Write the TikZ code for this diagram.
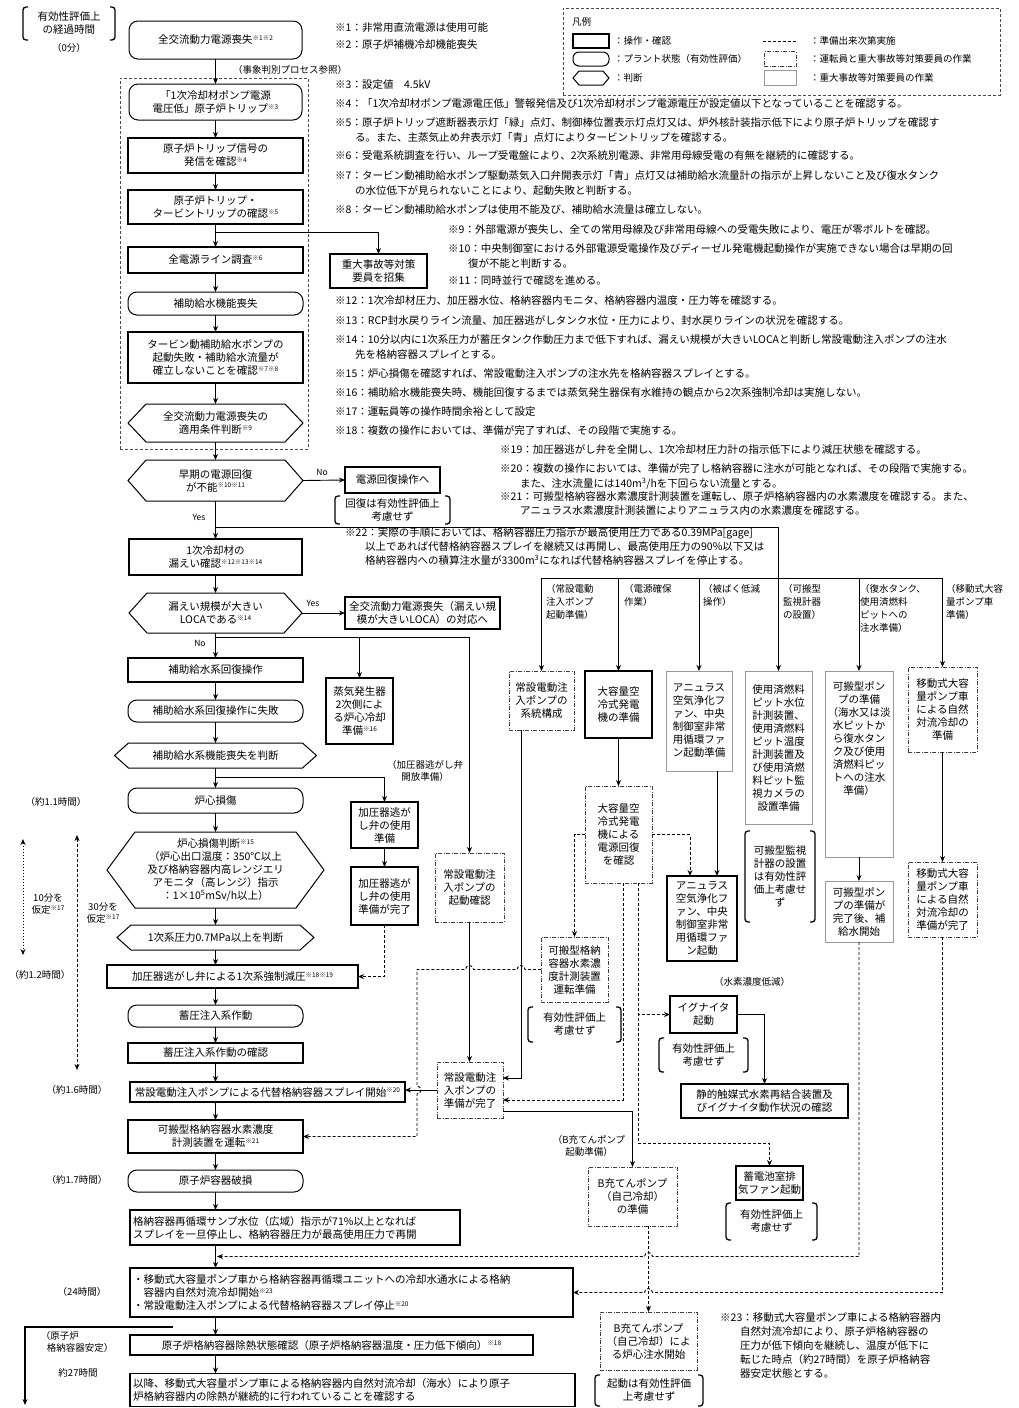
\documentclass[tikz,border=0pt]{standalone}
\usepackage{fontspec}
\setmainfont{Noto Sans CJK JP}
\usetikzlibrary{arrows.meta}
\newcommand\snote[1]{\raisebox{0.6ex}{\fontsize{6.5}{7}\selectfont ※#1}}
\tikzset{
 wh/.style 2 args={minimum width=#1pt,minimum height=#2pt},
 base/.style={inner sep=1pt, outer sep=0pt, align=center, font=\fontsize{10.5}{13}\selectfont},
 op/.style={base, draw, line width=1.4pt},
 oplft/.style={op, align=left, inner sep=3pt},
 plant/.style={base, draw, line width=1pt, rounded corners=9pt},
 hexin/.style={base},
 hexline/.style={line width=1pt},
 sadash/.style={base, draw=black!75, line width=0.8pt, dash pattern=on 4pt off 1.5pt on 1pt off 1.5pt},
 sathin/.style={base, draw=black!40, line width=1pt},
 grpbox/.style={draw=black!70, line width=0.8pt, dash pattern=on 3pt off 2pt},
 brtext/.style={base},
 brline/.style={line width=1.3pt, rounded corners=3pt},
 line/.style={line width=0.9pt},
 arr/.style={line, -{Stealth[length=6pt,width=5pt]}},
 darr/.style={arr, dash pattern=on 3pt off 2pt},
 dline/.style={line, dash pattern=on 3pt off 2pt},
 dotarr/.style={line, dash pattern=on 1.5pt off 1.5pt, {Stealth[length=6pt,width=5pt]}-{Stealth[length=6pt,width=5pt]}},
 dasharr/.style={line, dash pattern=on 3pt off 2pt, {Stealth[length=6pt,width=5pt]}-{Stealth[length=6pt,width=5pt]}},
 note/.style={inner sep=0pt, anchor=north west, align=left, font=\fontsize{10.5}{15}\selectfont},
 notec/.style={note, font=\fontsize{10.5}{14}\selectfont},
 lbl/.style={inner sep=0pt, font=\fontsize{8.5}{10}\selectfont},
 tlabel/.style={inner sep=0pt, align=center, font=\fontsize{9.5}{12}\selectfont},
 toplbl/.style={inner sep=0pt, anchor=north west, align=left, font=\fontsize{9.5}{13}\selectfont},
 legtxt/.style={inner sep=0pt, anchor=west, font=\fontsize{9.5}{11}\selectfont},
}
\newcommand\hexnode[7]{%
 \node[hexin, wh={#4}{#5}] (#1) at (#2,#3) {#7};
 \draw[hexline] (#1.west) -- ([xshift=#6pt]#1.north west) -- ([xshift=-#6pt]#1.north east) -- (#1.east) -- ([xshift=-#6pt]#1.south east) -- ([xshift=#6pt]#1.south west) -- cycle;
}
\newcommand\brnode[6]{%
 \node[brtext, wh={#4}{#5}] (#1) at (#2,#3) {#6};
 \draw[brline] ([xshift=5pt]#1.north west) -- (#1.north west) -- (#1.south west) -- ([xshift=5pt]#1.south west);
 \draw[brline] ([xshift=-5pt]#1.north east) -- (#1.north east) -- (#1.south east) -- ([xshift=-5pt]#1.south east);
}
\begin{document}
\begin{tikzpicture}[x=1pt,y=-1pt]
\useasboundingbox (0,0) rectangle (1018,1408);
\fill[white] (0,0) rectangle (1018,1408);

% ---------- legend ----------
\node[grpbox, wh={437}{87}] (leg) at (781.5,51.5) {};
\node[legtxt] (legT) at (572,22) {凡例};
\node[op, wh={36}{14}] (lg1) at (591,41) {};
\node[legtxt] (lg1t) at (614,41) {：操作・確認};
\node[plant, rounded corners=6pt, wh={36}{14}] (lg2) at (591,59) {};
\node[legtxt] (lg2t) at (614,59) {：プラント状態（有効性評価）};
\hexnode{lg3}{591}{78}{36}{14}{6}{}
\node[legtxt] (lg3t) at (614,78) {：判断};
\coordinate (lg4a) at (763,41); \coordinate (lg4b) at (797,41);
\draw[dline] (lg4a) -- (lg4b);
\node[legtxt] (lg4t) at (810,41) {：準備出来次第実施};
\node[sadash, wh={32}{15}] (lg5) at (780,59) {};
\node[legtxt] (lg5t) at (810,59) {：運転員と重大事故等対策要員の作業};
\node[sathin, wh={32}{15}] (lg6) at (780,78) {};
\node[legtxt] (lg6t) at (810,78) {：重大事故等対策要員の作業};

% ---------- top-left ----------
\brnode{b0}{69}{23.5}{92}{33}{有効性評価上\\の経過時間}
\node[tlabel] (t0) at (69,48) {（0分）};

% ---------- main column ----------
\node[plant, wh={173}{38}] (n1) at (215.5,40) {全交流動力電源喪失\snote{1}\snote{2}};
\node[grpbox, wh={188}{371}] (grp) at (214,263.5) {};
\node[legtxt] (lb0) at (233,70) {（事象判別プロセス参照）};
\node[plant, wh={173}{36}] (n2) at (215.5,102) {「1次冷却材ポンプ電源\\電圧低」原子炉トリップ\snote{3}};
\node[op, wh={175}{35}] (n3) at (215.5,155.5) {原子炉トリップ信号の\\発信を確認\snote{4}};
\node[op, wh={175}{34}] (n4) at (215.5,207) {原子炉トリップ・\\タービントリップの確認\snote{5}};
\node[op, wh={175}{26}] (n5) at (215.5,260) {全電源ライン調査\snote{6}};
\node[plant, wh={175}{23}] (n6) at (215.5,303.5) {補助給水機能喪失};
\node[op, wh={175}{51}] (n7) at (215.5,357.5) {タービン動補助給水ポンプの\\起動失敗・補助給水流量が\\確立しないことを確認\snote{7}\snote{8}};
\hexnode{n8}{215.5}{423}{175}{38}{18}{全交流動力電源喪失の\\適用条件判断\snote{9}}
\hexnode{n9}{215.5}{480.5}{175}{41}{18}{早期の電源回復\\が不能\snote{10}\snote{11}}
\node[op, wh={95}{26}] (n10) at (392.5,480) {電源回復操作へ};
\brnode{b1}{392.5}{510}{115}{28}{回復は有効性評価上\\考慮せず}
\node[op, wh={173}{36}] (n11) at (215.5,557) {1次冷却材の\\漏えい確認\snote{12}\snote{13}\snote{14}};
\hexnode{n12}{215.5}{613}{173}{40}{18}{漏えい規模が大きい\\LOCAである\snote{14}}
\node[op, wh={155}{32}] (n13) at (422.5,613) {全交流動力電源喪失（漏えい規\\模が大きいLOCA）の対応へ};
\node[op, wh={175}{24}] (n14) at (215.5,670) {補助給水系回復操作};
\node[plant, wh={175}{22}] (n15) at (215.5,711) {補助給水系回復操作に失敗};
\hexnode{n16}{215.5}{755.5}{202}{25}{14}{補助給水系機能喪失を判断}
\node[op, wh={67}{66}] (n17) at (359.5,711) {蒸気発生器\\2次側によ\\る炉心冷却\\準備\snote{16}};
\node[tlabel] (lbP) at (425,771) {（加圧器逃がし弁\\開放準備）};
\node[op, wh={67}{46}] (n18) at (384.5,825) {加圧器逃が\\し弁の使用\\準備};
\node[op, wh={67}{58}] (n19) at (384.5,896) {加圧器逃が\\し弁の使用\\準備が完了};
\node[plant, wh={175}{25}] (n20) at (215.5,800.5) {炉心損傷};
\hexnode{n21}{215.5}{870}{217}{76}{28}{炉心損傷判断\snote{15}\\（炉心出口温度：350℃以上\\及び格納容器内高レンジエリ\\アモニタ（高レンジ）指示\\：1×10\textsuperscript{5}mSv/h以上）}
\hexnode{n22}{215.5}{937.5}{197}{25}{14}{1次系圧力0.7MPa以上を判断}
\node[op, wh={251}{23}] (n23) at (232.5,976.5) {加圧器逃がし弁による1次系強制減圧\snote{18}\snote{19}};
\node[plant, wh={175}{22}] (n24) at (215.5,1016) {蓄圧注入系作動};
\node[op, wh={175}{20}] (n25) at (215.5,1053) {蓄圧注入系作動の確認};
\node[op, wh={275}{20}] (n26) at (267.5,1092) {常設電動注入ポンプによる代替格納容器スプレイ開始\snote{20}};
\node[op, wh={175}{33}] (n27) at (215.5,1136.5) {可搬型格納容器水素濃度\\計測装置を運転\snote{21}};
\node[plant, wh={175}{22}] (n28) at (215.5,1181) {原子炉容器破損};
\node[oplft, text width=324pt, minimum height=35pt] (n29) at (295,1227.5) {格納容器再循環サンプ水位（広域）指示が71\%以上となれば\\スプレイを一旦停止し、格納容器圧力が最高使用圧力で再開};
\node[oplft, text width=437pt, minimum height=49pt] (n30) at (351.5,1292.5) {・移動式大容量ポンプ車から格納容器再循環ユニットへの冷却水通水による格納\\\hspace*{10.5pt}容器内自然対流冷却開始\snote{23}\\・常設電動注入ポンプによる代替格納容器スプレイ停止\snote{20}};
\node[op, wh={403}{20}] (n31) at (331.5,1345) {原子炉格納容器除熱状態確認（原子炉格納容器温度・圧力低下傾向）\snote{18}};
\node[oplft, text width=439pt, minimum height=33pt] (n32) at (352.5,1390) {以降、移動式大容量ポンプ車による格納容器内自然対流冷却（海水）により原子\\炉格納容器内の除熱が継続的に行われていることを確認する};

% ---------- right side ----------
\node[op, wh={97}{34}] (n33) at (378.5,271) {重大事故等対策\\要員を招集};
\node[sadash, wh={69}{69}] (n34) at (469.5,887.5) {常設電動注\\入ポンプの\\起動確認};
\node[sadash, wh={66}{56}] (n35) at (470,1090) {常設電動注\\入ポンプの\\準備が完了};

\node[toplbl] (L1) at (546,584) {（常設電動\\注入ポンプ\\起動準備）};
\node[toplbl] (L2) at (624,584) {（電源確保\\作業）};
\node[toplbl] (L3) at (703,584) {（被ばく低減\\操作）};
\node[toplbl] (L4) at (783,584) {（可搬型\\監視計器\\の設置）};
\node[toplbl] (L5) at (860,584) {（復水タンク、\\使用済燃料\\ピットへの\\注水準備）};
\node[toplbl] (L6) at (946,584) {（移動式大容\\量ポンプ車\\準備）};

\node[sadash, wh={65}{59}] (R1) at (541.5,700.5) {常設電動注\\入ポンプの\\系統構成};
\node[op, wh={67}{67}] (R2) at (618.5,704.5) {大容量空\\冷式発電\\機の準備};
\node[sathin, wh={66}{100}] (R3) at (699,721) {アニュラス\\空気浄化フ\\ァン、中央\\制御室非常\\用循環ファ\\ン起動準備};
\node[sathin, wh={67}{153}] (R4) at (778.5,747.5) {使用済燃料\\ピット水位\\計測装置、\\使用済燃料\\ピット温度\\計測装置及\\び使用済燃\\料ピット監\\視カメラの\\設置準備};
\node[sathin, wh={68}{186}] (R5) at (859,764) {可搬型ポン\\プの準備\\（海水又は淡\\水ピットか\\ら復水タン\\ク及び使用\\済燃料ピッ\\トへの注水\\準備）\\\mbox{}\\\mbox{}\\\mbox{}\\\mbox{}};
\node[sadash, wh={69}{85}] (R6) at (942.5,709.5) {移動式大容\\量ポンプ車\\による自然\\対流冷却の\\準備};
\node[sadash, wh={67}{97}] (R7) at (618.5,834.5) {大容量空\\冷式発電\\機による\\電源回復\\を確認};
\node[op, wh={70}{85}] (R8) at (702,918.5) {アニュラス\\空気浄化フ\\ァン、中央\\制御室非常\\用循環ファ\\ン起動};
\brnode{R9}{780}{876.5}{70}{91}{可搬型監視\\計器の設置\\は有効性評\\価上考慮せ\\ず}
\node[sathin, wh={68}{61}] (R10) at (859,911.5) {可搬型ポン\\プの準備が\\完了後、補\\給水開始};
\node[sadash, wh={69}{75}] (R11) at (942.5,899.5) {移動式大容\\量ポンプ車\\による自然\\対流冷却の\\準備が完了};
\node[sadash, wh={67}{65}] (R12) at (574.5,969.5) {可搬型格納\\容器水素濃\\度計測装置\\運転準備};
\brnode{R12b}{574.5}{1024.5}{93}{35}{有効性評価上\\考慮せず}
\node[tlabel] (lbH) at (752,982) {（水素濃度低減）};
\node[op, wh={67}{37}] (R14) at (703.5,1014.5) {イグナイタ\\起動};
\brnode{R14b}{703.5}{1055}{89}{34}{有効性評価上\\考慮せず}
\node[op, wh={167}{34}] (R15) at (764.5,1101) {静的触媒式水素再結合装置及\\びイグナイタ動作状況の確認};
\node[tlabel] (lbB) at (589,1146) {（B充てんポンプ\\起動準備）};
\node[sadash, wh={89}{59}] (R17) at (632.5,1196.5) {B充てんポンプ\\（自己冷却）\\の準備};
\node[op, wh={67}{34}] (R18) at (769.5,1183) {蓄電池室排\\気ファン起動};
\brnode{R18b}{771.5}{1221.5}{91}{37}{有効性評価上\\考慮せず}
\node[sadash, wh={97}{58}] (R19) at (648.5,1341) {B充てんポンプ\\（自己冷却）によ\\る炉心注水開始};
\brnode{R19b}{649}{1390.5}{108}{31}{起動は有効性評価\\上考慮せず}

% ---------- time labels ----------
\node[tlabel] (t1) at (56,802) {（約1.1時間）};
\node[tlabel] (t2) at (40,975) {（約1.2時間）};
\node[tlabel] (t3) at (77,1090) {（約1.6時間）};
\node[tlabel] (t4) at (77,1180) {（約1.7時間）};
\node[tlabel] (t5) at (82,1292) {（24時間）};
\node[tlabel, align=left] (t6) at (77,1342) {（原子炉\\\hspace*{6pt}格納容器安定）};
\node[tlabel] (t7) at (78,1373) {約27時間};
\coordinate (a1) at (23,839); \coordinate (a2) at (23,955);
\draw[dotarr] (a1) -- (a2);
\coordinate (a3) at (77,835); \coordinate (a4) at (77,1070);
\draw[dasharr] (a3) -- (a4);
\node[tlabel] (l10) at (48,904) {10分を\\仮定\snote{17}};
\node[tlabel] (l30) at (103,913) {30分を\\仮定\snote{17}};

% ---------- notes ----------
\node[note] (N1) at (335,22.5) {※1：非常用直流電源は使用可能};
\node[note] (N2) at (335,39.5) {※2：原子炉補機冷却機能喪失};
\node[note] (N3) at (335,79.5) {※3：設定値　4.5kV};
\node[note] (N4) at (335,98.5) {※4：「1次冷却材ポンプ電源電圧低」警報発信及び1次冷却材ポンプ電源電圧が設定値以下となっていることを確認する。};
\node[note] (N5) at (335,117.5) {※5：原子炉トリップ遮断器表示灯「緑」点灯、制御棒位置表示灯点灯又は、炉外核計装指示低下により原子炉トリップを確認す\\\hspace*{20pt}る。また、主蒸気止め弁表示灯「青」点灯によりタービントリップを確認する。};
\node[note] (N6) at (335,150.5) {※6：受電系統調査を行い、ループ受電盤により、2次系統別電源、非常用母線受電の有無を継続的に確認する。};
\node[note] (N7) at (335,170.5) {※7：タービン動補助給水ポンプ駆動蒸気入口弁開表示灯「青」点灯又は補助給水流量計の指示が上昇しないこと及び復水タンク\\\hspace*{20pt}の水位低下が見られないことにより、起動失敗と判断する。};
\node[note] (N8) at (335,204.5) {※8：タービン動補助給水ポンプは使用不能及び、補助給水流量は確立しない。};
\node[note] (N9) at (448,224.5) {※9：外部電源が喪失し、全ての常用母線及び非常用母線への受電失敗により、電圧が零ボルトを確認。};
\node[note] (N10) at (448,243.5) {※10：中央制御室における外部電源受電操作及びディーゼル発電機起動操作が実施できない場合は早期の回\\\hspace*{20pt}復が不能と判断する。};
\node[note] (N11) at (448,275.5) {※11：同時並行で確認を進める。};
\node[note] (N12) at (335,295.5) {※12：1次冷却材圧力、加圧器水位、格納容器内モニタ、格納容器内温度・圧力等を確認する。};
\node[note] (N13) at (335,315.5) {※13：RCP封水戻りライン流量、加圧器逃がしタンク水位・圧力により、封水戻りラインの状況を確認する。};
\node[note] (N14) at (335,334.5) {※14：10分以内に1次系圧力が蓄圧タンク作動圧力まで低下すれば、漏えい規模が大きいLOCAと判断し常設電動注入ポンプの注水\\\hspace*{20pt}先を格納容器スプレイとする。};
\node[note] (N15) at (335,368.5) {※15：炉心損傷を確認すれば、常設電動注入ポンプの注水先を格納容器スプレイとする。};
\node[note] (N16) at (335,387.5) {※16：補助給水機能喪失時、機能回復するまでは蒸気発生器保有水維持の観点から2次系強制冷却は実施しない。};
\node[note] (N17) at (335,406.5) {※17：運転員等の操作時間余裕として設定};
\node[note] (N18) at (335,425.5) {※18：複数の操作においては、準備が完了すれば、その段階で実施する。};
\node[note] (N19) at (500,444.5) {※19：加圧器逃がし弁を全開し、1次冷却材圧力計の指示低下により減圧状態を確認する。};
\node[note] (N20) at (500,463.5) {※20：複数の操作においては、準備が完了し格納容器に注水が可能となれば、その段階で実施する。\\\hspace*{20pt}また、注水流量には140m\textsuperscript{3}/hを下回らない流量とする。};
\node[notec] (N21) at (500,491) {※21：可搬型格納容器水素濃度計測装置を運転し、原子炉格納容器内の水素濃度を確認する。また、\\\hspace*{20pt}アニュラス水素濃度計測装置によりアニュラス内の水素濃度を確認する。};
\node[notec] (N22) at (345,527) {※22：実際の手順においては、格納容器圧力指示が最高使用圧力である0.39MPa[gage]\\\hspace*{20pt}以上であれば代替格納容器スプレイを継続又は再開し、最高使用圧力の90\%以下又は\\\hspace*{20pt}格納容器内への積算注水量が3300m\textsuperscript{3}になれば代替格納容器スプレイを停止する。};
\node[notec] (N23) at (720,1312) {※23：移動式大容量ポンプ車による格納容器内\\\hspace*{20pt}自然対流冷却により、原子炉格納容器の\\\hspace*{20pt}圧力が低下傾向を継続し、温度が低下に\\\hspace*{20pt}転じた時点（約27時間）を原子炉格納容\\\hspace*{20pt}器安定状態とする。};

% ---------- connectors: main ----------
\draw[arr] (n1) -- (n2);
\draw[arr] (n2) -- (n3);
\draw[arr] (n3) -- (n4);
\draw[arr] (n4) -- (n5);
\coordinate (j1) at (215.5,232);
\draw[arr] (j1) -| (n33.north);
\draw[arr] (n5) -- (n6);
\draw[arr] (n6) -- (n7);
\draw[arr] (n7) -- (n8);
\draw[arr] (n8) -- (n9);
\draw[arr] (n9.east) -- (n10.west);
\node[lbl] (lno1) at (322,472) {No};
\draw[arr] (n9) -- (n11);
\node[lbl] (lyes1) at (199,517) {Yes};
\coordinate (j2) at (215.5,527);
\coordinate (j3) at (778.5,578);
\draw[line] (j2) -| (j3);
\draw[line] (R1.north |- j3) -- (R6.north |- j3);
\foreach \r in {R1,R2,R3,R4,R5,R6} { \draw[arr] (\r.north |- j3) -- (\r.north); }
\draw[arr] (n11) -- (n12);
\draw[arr] (n12.east) -- (n13.west);
\node[lbl] (lyes2) at (313,603) {Yes};
\draw[arr] (n12) -- (n14);
\node[lbl] (lno2) at (200,643) {No};
\coordinate (j4) at (215.5,637);
\draw[line] (j4) -- (j4 -| n34.north);
\draw[arr] (j4 -| n17.north) -- (n17.north);
\draw[arr] (j4 -| n34.north) -- (n34.north);
\draw[arr] (n14) -- (n15);
\draw[arr] (n15) -- (n16);
\draw[arr] (n16) -- (n20);
\coordinate (j5) at (215.5,777);
\draw[arr] (j5) -| (n18.north);
\draw[arr] (n18) -- (n19);
\draw[darr] (n19.south) |- (n23.east);
\draw[arr] (n20) -- (n21);
\draw[arr] (n21) -- (n22);
\draw[arr] (n22.south) -- (n22.south |- n23.north);
\draw[arr] (n24.north |- n23.south) -- (n24.north);
\draw[arr] (n24) -- (n25);
\draw[arr] (n25.south) -- (n25.south |- n26.north);
\draw[arr] (n27.north |- n26.south) -- (n27.north);
\draw[arr] (n27) -- (n28);
\draw[arr] (n28.south) -- (n28.south |- n29.north);
\draw[arr] (n28.south |- n29.south) -- (n28.south |- n30.north);
\draw[arr] (n28.south |- n30.south) -- (n28.south |- n31.north);
\draw[arr] (n28.south |- n31.south) -- (n28.south |- n32.north);
\coordinate (k1) at (173,1327); \coordinate (k2) at (25,1405);
\draw[arr, line width=1.3pt] (k1) -| (k2);

% ---------- connectors: right ----------
\draw[arr] (n34.south) -- (n34.south |- n35.north);
\draw[arr] ([xshift=-20.5pt]R1.south) |- ([yshift=12pt]n35.east);
\draw[arr] (n35.west) -- (n35.west -| n26.east);
\draw[arr] ([yshift=-21pt]n35.east) -| (R17.north);
\draw[arr] (R2) -- (R7);
\draw[darr] (R7.west) -| (R12.north);
\draw[darr] (R7.east) -| ([xshift=-12pt]R8.north);
\draw[arr] ([xshift=18pt]R3.south) -- ([xshift=15pt]R8.north);
\coordinate (c1) at ([xshift=4.5pt]R7.south);
\draw[darr] (c1) |- ([yshift=-10pt]n35.east);
\coordinate (c2) at ([xshift=19.5pt]R7.south);
\draw[darr] (c2) |- (R14.west);
\coordinate (c3) at (638,1143);
\draw[darr] (c2) -- (c3) -| (R18.north);
\draw[arr] (R14.east) -| (R15.north);
\draw[arr] (R5) -- (R10);
\draw[arr] (R6) -- (R11);
\draw[darr] (R12.west) -- (525,969.5) arc[start angle=0,end angle=-180,radius=4] -- (473.5,969.5) arc[start angle=0,end angle=-180,radius=4] -- (417,969.5) -- (417,1086) arc[start angle=270,end angle=450,radius=4] -- (417,1136.5) -- (n27.east);
\coordinate (j6) at (217,1256.5);
\draw[darr] (R10.south) -- (859,1256.5) -- (652.5,1256.5) arc[start angle=0,end angle=-180,radius=4] -- (j6);
\draw[darr] ([xshift=16pt]R17.south) -- (R19.north);
\draw[darr] (R11.south) -- (942.5,1292.5) -- (652.5,1292.5) arc[start angle=0,end angle=-180,radius=4] -- (n30.east);
\end{tikzpicture}
\end{document}
